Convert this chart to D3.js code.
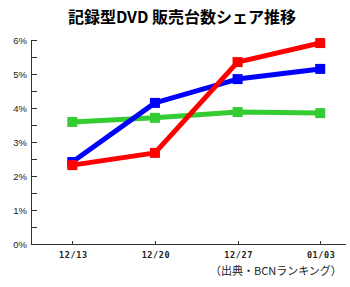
<!DOCTYPE html>
<html>
<head>
<meta charset="utf-8">
<style>
body { margin: 0; background: #fff; }
.axis path, .axis line { fill: none; stroke: #333; shape-rendering: crispEdges; }
.axis text { fill: #222; font-family: "Liberation Sans", Arial, sans-serif; }
</style>
</head>
<body>
<script src="https://cdn.jsdelivr.net/npm/d3@7"></script>
<script>
var dates = ["12/13", "12/20", "12/27", "01/03"];
var redValues = [2.32, 2.68, 5.35, 5.91];
var blueValues = [2.41, 4.15, 4.85, 5.15];
var greenValues = [3.59, 3.71, 3.88, 3.85];
var yTicks = [0, 1, 2, 3, 4, 5, 6];

var series = [
  {color: "#33cc33", values: greenValues},
  {color: "#0000ff", values: blueValues},
  {color: "#ff0000", values: redValues}
];

var width = 350, height = 287;

var svg = d3.select("body").append("svg")
    .attr("width", width)
    .attr("height", height);

var x = d3.scaleLinear().domain([-0.5, 3.3]).range([31, 345]);
var y = d3.scaleLinear().domain([0, 6]).range([244, 40]);

svg.append("text")
    .attr("x", 182)
    .attr("y", 23)
    .style("text-anchor", "middle")
    .style("font-family", "'Noto Sans CJK JP', sans-serif")
    .style("font-weight", "bold")
    .style("font-size", "16px")
    .text("記録型DVD 販売台数シェア推移");

// y axis: minor ticks every 0.5%
svg.append("g")
    .attr("class", "axis")
    .attr("transform", "translate(31,0)")
    .call(d3.axisRight(y).tickValues(d3.range(0.5, 6, 1)).tickSize(6).tickSizeOuter(0).tickFormat(""));

svg.append("g")
    .attr("class", "axis")
    .attr("transform", "translate(31,0)")
    .call(d3.axisRight(y).tickValues(yTicks).tickSize(6).tickSizeOuter(0).tickFormat(""))
    .select(".domain").remove();

svg.append("g")
    .selectAll("text")
    .data(yTicks)
  .enter().append("text")
    .attr("x", 27)
    .attr("y", function(d) { return y(d) + 3.5; })
    .style("text-anchor", "end")
    .style("font-family", "'Liberation Sans', Arial, sans-serif")
    .style("font-size", "9.5px")
    .style("fill", "#222")
    .text(function(d) { return d + "%"; });

svg.append("g")
    .attr("class", "axis")
    .attr("transform", "translate(0,244)")
    .call(d3.axisTop(x).tickValues([0, 1, 2, 3]).tickSize(3).tickSizeOuter(0).tickFormat(""));

svg.append("g")
    .selectAll("text")
    .data(dates)
  .enter().append("text")
    .attr("x", function(d, i) { return x(i) + 1; })
    .attr("y", 258)
    .style("text-anchor", "middle")
    .style("font-family", "'DejaVu Sans Mono', monospace")
    .style("font-weight", "bold")
    .style("font-size", "8.5px")
    .style("letter-spacing", "0.6px")
    .style("fill", "#222")
    .text(function(d) { return d; });

var line = d3.line()
    .x(function(d, i) { return x(i); })
    .y(function(d) { return y(d); });

series.forEach(function(s) {
  svg.append("path")
      .datum(s.values)
      .attr("d", line)
      .style("fill", "none")
      .style("stroke", s.color)
      .style("stroke-width", 5)
      .style("stroke-linejoin", "round");

  svg.selectAll(null)
      .data(s.values)
    .enter().append("rect")
      .attr("x", function(d, i) { return x(i) - 5; })
      .attr("y", function(d) { return y(d) - 5; })
      .attr("width", 10)
      .attr("height", 10)
      .style("fill", s.color);
});

svg.append("text")
    .attr("x", 210)
    .attr("y", 275)
    .style("text-anchor", "start")
    .style("font-family", "'Noto Sans CJK JP', sans-serif")
    .style("font-size", "11px")
    .style("fill", "#222")
    .text("（出典・BCNランキング）");
</script>
</body>
</html>
